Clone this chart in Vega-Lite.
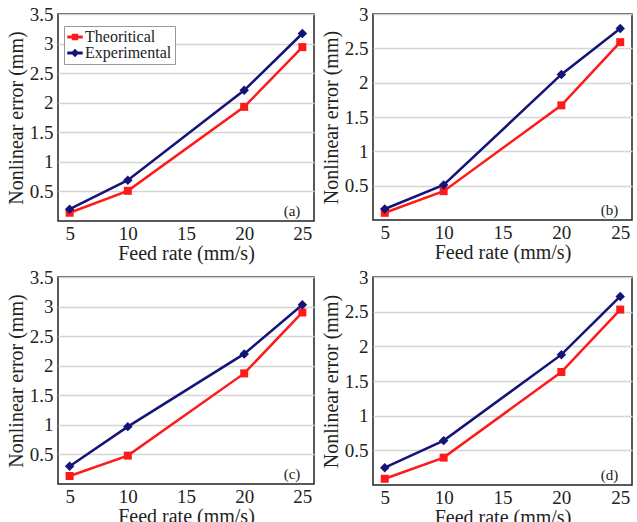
{
  "$schema": "https://vega.github.io/schema/vega-lite/v6.json",
  "background": "white",
  "padding": {"left": 5, "top": 4, "right": 5, "bottom": 2},
  "datasets": {
    "a": [
      {"feed": 5, "series": "Theoritical", "error": 0.14},
      {"feed": 10, "series": "Theoritical", "error": 0.51},
      {"feed": 20, "series": "Theoritical", "error": 1.93},
      {"feed": 25, "series": "Theoritical", "error": 2.94},
      {"feed": 5, "series": "Experimental", "error": 0.2},
      {"feed": 10, "series": "Experimental", "error": 0.69},
      {"feed": 20, "series": "Experimental", "error": 2.21},
      {"feed": 25, "series": "Experimental", "error": 3.17}
    ],
    "b": [
      {"feed": 5, "series": "Theoritical", "error": 0.105},
      {"feed": 10, "series": "Theoritical", "error": 0.42},
      {"feed": 20, "series": "Theoritical", "error": 1.67},
      {"feed": 25, "series": "Theoritical", "error": 2.59},
      {"feed": 5, "series": "Experimental", "error": 0.16},
      {"feed": 10, "series": "Experimental", "error": 0.51},
      {"feed": 20, "series": "Experimental", "error": 2.12},
      {"feed": 25, "series": "Experimental", "error": 2.79}
    ],
    "c": [
      {"feed": 5, "series": "Theoritical", "error": 0.135},
      {"feed": 10, "series": "Theoritical", "error": 0.48},
      {"feed": 20, "series": "Theoritical", "error": 1.87},
      {"feed": 25, "series": "Theoritical", "error": 2.9},
      {"feed": 5, "series": "Experimental", "error": 0.3},
      {"feed": 10, "series": "Experimental", "error": 0.97},
      {"feed": 20, "series": "Experimental", "error": 2.2},
      {"feed": 25, "series": "Experimental", "error": 3.03}
    ],
    "d": [
      {"feed": 5, "series": "Theoritical", "error": 0.09},
      {"feed": 10, "series": "Theoritical", "error": 0.395},
      {"feed": 20, "series": "Theoritical", "error": 1.63},
      {"feed": 25, "series": "Theoritical", "error": 2.53},
      {"feed": 5, "series": "Experimental", "error": 0.25},
      {"feed": 10, "series": "Experimental", "error": 0.64},
      {"feed": 20, "series": "Experimental", "error": 1.88},
      {"feed": 25, "series": "Experimental", "error": 2.72}
    ]
  },
  "columns": 2,
  "spacing": {"column": 5, "row": 3},
  "concat": [
    {
      "width": 256, "height": 207,
      "layer": [
        {"data": {"name": "a"}, "mark": {"type": "line", "strokeWidth": 2.5},
         "encoding": {
           "x": {"field": "feed", "type": "quantitative", "scale": {"domain": [5, 25]}, "axis": {"values": [5, 10, 15, 20, 25], "title": "Feed rate (mm/s)"}},
           "y": {"field": "error", "type": "quantitative", "scale": {"domain": [0, 3.5]}, "axis": {"values": [0.5, 1, 1.5, 2, 2.5, 3, 3.5], "title": "Nonlinear error (mm)"}},
           "color": {"field": "series", "type": "nominal", "scale": {"domain": ["Theoritical", "Experimental"], "range": ["#ff1a1a", "#141478"]}}
         }},
        {"data": {"name": "a"}, "transform": [{"filter": "datum.series === 'Theoritical'"}],
         "mark": {"type": "point", "shape": "square", "filled": true, "opacity": 1, "size": 64},
         "encoding": {"x": {"field": "feed", "type": "quantitative"}, "y": {"field": "error", "type": "quantitative"},
           "color": {"field": "series", "type": "nominal"}}},
        {"data": {"name": "a"}, "transform": [{"filter": "datum.series === 'Experimental'"}],
         "mark": {"type": "point", "shape": "diamond", "filled": true, "opacity": 1, "size": 90},
         "encoding": {"x": {"field": "feed", "type": "quantitative"}, "y": {"field": "error", "type": "quantitative"},
           "color": {"field": "series", "type": "nominal"}}},
        {"data": {"values": [{"t": "(a)"}]},
         "mark": {"type": "text", "align": "right", "baseline": "bottom", "dx": -2, "dy": -2, "font": "Liberation Serif", "fontSize": 15, "color": "#222"},
         "encoding": {"x": {"datum": 25, "type": "quantitative"}, "y": {"datum": 0, "type": "quantitative"}, "text": {"field": "t"}}},
        {"data": {"name": "a"}, "transform": [{"filter": "false"}],
         "mark": {"type": "point", "filled": true, "opacity": 1},
         "encoding": {
           "x": {"field": "feed", "type": "quantitative"}, "y": {"field": "error", "type": "quantitative"},
           "color": {"field": "series", "type": "nominal",
             "legend": {"title": null, "orient": "none", "legendX": 6, "legendY": 12, "fillColor": "white", "strokeColor": "#999", "padding": 3, "symbolSize": 196, "labelFont": "Liberation Serif", "labelFontSize": 16, "labelColor": "#222", "rowPadding": 0, "symbolOffset": 0, "labelOffset": 2}},
           "shape": {"field": "series", "type": "nominal",
             "scale": {"domain": ["Theoritical", "Experimental"], "range": ["M-1,-0.12H1V0.12H-1Z M-0.35,-0.35H0.35V0.35H-0.35Z", "M-1,-0.12H1V0.12H-1Z M0,-0.45L0.45,0L0,0.45L-0.45,0Z"]},
             "legend": {"title": null, "orient": "none", "legendX": 6, "legendY": 12, "fillColor": "white", "strokeColor": "#999", "padding": 3, "symbolSize": 196, "labelFont": "Liberation Serif", "labelFontSize": 16, "labelColor": "#222", "rowPadding": 0, "symbolOffset": 0, "labelOffset": 2}}
         }}
      ]
    },
    {
      "width": 259, "height": 206,
      "layer": [
        {"data": {"name": "b"}, "mark": {"type": "line", "strokeWidth": 2.5},
         "encoding": {
           "x": {"field": "feed", "type": "quantitative", "scale": {"domain": [5, 25]}, "axis": {"values": [5, 10, 15, 20, 25], "title": "Feed rate (mm/s)"}},
           "y": {"field": "error", "type": "quantitative", "scale": {"domain": [0, 3]}, "axis": {"values": [0.5, 1, 1.5, 2, 2.5, 3], "title": "Nonlinear error (mm)"}},
           "color": {"field": "series", "type": "nominal", "scale": {"domain": ["Theoritical", "Experimental"], "range": ["#ff1a1a", "#141478"]}}
         }},
        {"data": {"name": "b"}, "transform": [{"filter": "datum.series === 'Theoritical'"}],
         "mark": {"type": "point", "shape": "square", "filled": true, "opacity": 1, "size": 64},
         "encoding": {"x": {"field": "feed", "type": "quantitative"}, "y": {"field": "error", "type": "quantitative"},
           "color": {"field": "series", "type": "nominal"}}},
        {"data": {"name": "b"}, "transform": [{"filter": "datum.series === 'Experimental'"}],
         "mark": {"type": "point", "shape": "diamond", "filled": true, "opacity": 1, "size": 90},
         "encoding": {"x": {"field": "feed", "type": "quantitative"}, "y": {"field": "error", "type": "quantitative"},
           "color": {"field": "series", "type": "nominal"}}},
        {"data": {"values": [{"t": "(b)"}]},
         "mark": {"type": "text", "align": "right", "baseline": "bottom", "dx": -2, "dy": -2, "font": "Liberation Serif", "fontSize": 15, "color": "#222"},
         "encoding": {"x": {"datum": 25, "type": "quantitative"}, "y": {"datum": 0, "type": "quantitative"}, "text": {"field": "t"}}}
      ]
    },
    {
      "width": 256, "height": 207,
      "layer": [
        {"data": {"name": "c"}, "mark": {"type": "line", "strokeWidth": 2.5},
         "encoding": {
           "x": {"field": "feed", "type": "quantitative", "scale": {"domain": [5, 25]}, "axis": {"values": [5, 10, 15, 20, 25], "title": "Feed rate (mm/s)"}},
           "y": {"field": "error", "type": "quantitative", "scale": {"domain": [0, 3.5]}, "axis": {"values": [0.5, 1, 1.5, 2, 2.5, 3, 3.5], "title": "Nonlinear error (mm)"}},
           "color": {"field": "series", "type": "nominal", "scale": {"domain": ["Theoritical", "Experimental"], "range": ["#ff1a1a", "#141478"]}}
         }},
        {"data": {"name": "c"}, "transform": [{"filter": "datum.series === 'Theoritical'"}],
         "mark": {"type": "point", "shape": "square", "filled": true, "opacity": 1, "size": 64},
         "encoding": {"x": {"field": "feed", "type": "quantitative"}, "y": {"field": "error", "type": "quantitative"},
           "color": {"field": "series", "type": "nominal"}}},
        {"data": {"name": "c"}, "transform": [{"filter": "datum.series === 'Experimental'"}],
         "mark": {"type": "point", "shape": "diamond", "filled": true, "opacity": 1, "size": 90},
         "encoding": {"x": {"field": "feed", "type": "quantitative"}, "y": {"field": "error", "type": "quantitative"},
           "color": {"field": "series", "type": "nominal"}}},
        {"data": {"values": [{"t": "(c)"}]},
         "mark": {"type": "text", "align": "right", "baseline": "bottom", "dx": -2, "dy": -2, "font": "Liberation Serif", "fontSize": 15, "color": "#222"},
         "encoding": {"x": {"datum": 25, "type": "quantitative"}, "y": {"datum": 0, "type": "quantitative"}, "text": {"field": "t"}}}
      ]
    },
    {
      "width": 259, "height": 208,
      "layer": [
        {"data": {"name": "d"}, "mark": {"type": "line", "strokeWidth": 2.5},
         "encoding": {
           "x": {"field": "feed", "type": "quantitative", "scale": {"domain": [5, 25]}, "axis": {"values": [5, 10, 15, 20, 25], "title": "Feed rate (mm/s)"}},
           "y": {"field": "error", "type": "quantitative", "scale": {"domain": [0, 3]}, "axis": {"values": [0.5, 1, 1.5, 2, 2.5, 3], "title": "Nonlinear error (mm)"}},
           "color": {"field": "series", "type": "nominal", "scale": {"domain": ["Theoritical", "Experimental"], "range": ["#ff1a1a", "#141478"]}}
         }},
        {"data": {"name": "d"}, "transform": [{"filter": "datum.series === 'Theoritical'"}],
         "mark": {"type": "point", "shape": "square", "filled": true, "opacity": 1, "size": 64},
         "encoding": {"x": {"field": "feed", "type": "quantitative"}, "y": {"field": "error", "type": "quantitative"},
           "color": {"field": "series", "type": "nominal"}}},
        {"data": {"name": "d"}, "transform": [{"filter": "datum.series === 'Experimental'"}],
         "mark": {"type": "point", "shape": "diamond", "filled": true, "opacity": 1, "size": 90},
         "encoding": {"x": {"field": "feed", "type": "quantitative"}, "y": {"field": "error", "type": "quantitative"},
           "color": {"field": "series", "type": "nominal"}}},
        {"data": {"values": [{"t": "(d)"}]},
         "mark": {"type": "text", "align": "right", "baseline": "bottom", "dx": -2, "dy": -2, "font": "Liberation Serif", "fontSize": 15, "color": "#222"},
         "encoding": {"x": {"datum": 25, "type": "quantitative"}, "y": {"datum": 0, "type": "quantitative"}, "text": {"field": "t"}}}
      ]
    }
  ],
  "resolve": {"scale": {"x": "independent", "y": "independent", "color": "independent", "shape": "independent"}, "legend": {"color": "independent", "shape": "independent"}},
  "config": {
    "legend": {"disable": true},
    "view": {"stroke": "#222", "strokeWidth": 1.5},
    "axis": {"labelFont": "Liberation Serif", "labelFontSize": 19, "labelColor": "#222", "titleFont": "Liberation Serif", "titleFontSize": 20, "titleFontWeight": "normal", "titleColor": "#222", "ticks": false, "domain": false, "labelFlush": false, "labelOverlap": false, "tickCount": 20, "format": "~g"},
    "axisX": {"grid": false, "titlePadding": 0, "labelPadding": 3},
    "axisY": {"grid": true, "gridColor": "#d4d4d4", "gridWidth": 1.5, "titlePadding": 3, "labelPadding": 5}
  }
}
